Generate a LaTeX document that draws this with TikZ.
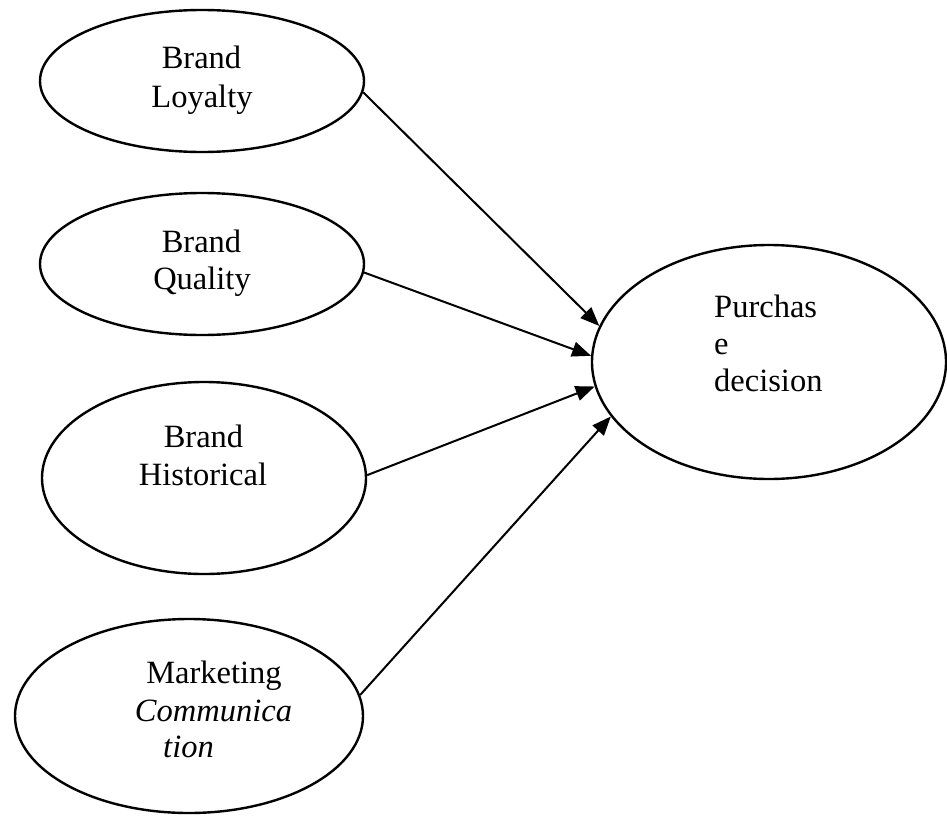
\documentclass[tikz,border=0pt]{standalone}
\usepackage{fontspec}
\setmainfont{Liberation Serif}
\usetikzlibrary{shapes.geometric,arrows.meta}
\begin{document}
\begin{tikzpicture}[x=1pt,y=-1pt,
  oval/.style={ellipse,draw,line width=2.4pt,inner sep=0pt},
  lbl/.style={anchor=base,inner sep=0pt,font=\fontsize{32.5}{37}\selectfont},
  lbll/.style={anchor=base west,inner sep=0pt,font=\fontsize{32.5}{37}\selectfont},
  link/.style={line width=2pt,-{Triangle[length=19pt,width=15pt]}}]
\useasboundingbox (0,0) rectangle (947,816);
\fill[white] (0,0) rectangle (947,816);

\node[oval,minimum width=324pt,minimum height=142pt] (loy) at (202,81) {};
\node[oval,minimum width=324pt,minimum height=142pt] (qua) at (202,264) {};
\node[oval,minimum width=324pt,minimum height=192pt] (his) at (204,478) {};
\node[oval,minimum width=348pt,minimum height=194pt] (mar) at (189,716) {};
\node[oval,minimum width=354pt,minimum height=234pt] (pur) at (769,362) {};

\node[lbl] (loy1) at (201.5,69) {Brand};
\node[lbl] (loy2) at (202,107) {Loyalty};
\node[lbl] (qua1) at (201.5,252) {Brand};
\node[lbl] (qua2) at (202,289) {Quality};
\node[lbl] (his1) at (203.5,447) {Brand};
\node[lbl] (his2) at (203,485) {Historical};
\node[lbl] (mar1) at (214,683) {Marketing};
\node[lbl] (mar2) at (213.5,721) {\itshape Communica};
\node[lbl] (mar3) at (188.5,757) {\itshape tion};
\node[lbll] (pur1) at (714,317) {Purchas};
\node[lbll] (pur2) at (714,354) {e};
\node[lbll] (pur3) at (714,391) {decision};

\draw[link] (loy.-4) -- (pur.168);
\draw[link] (qua.-3) -- (pur.178.4);
\draw[link] (his.1) -- (pur.188);
\draw[link] (mar.7.7) -- (pur.199.6);
\end{tikzpicture}
\end{document}
